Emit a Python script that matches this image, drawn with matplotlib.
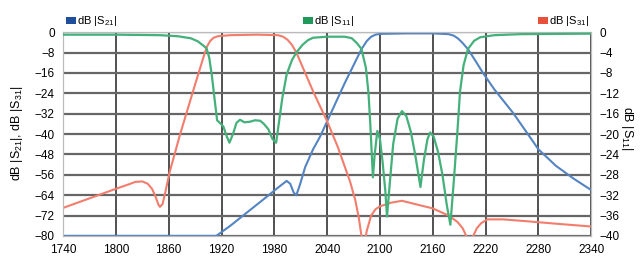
import numpy as np
import matplotlib
matplotlib.use("Agg")
import matplotlib.pyplot as plt
from matplotlib.patches import Rectangle

plt.rcParams['font.family'] = ['Liberation Sans Narrow', 'Liberation Sans', 'DejaVu Sans']
plt.rcParams['mathtext.fontset'] = 'custom'
plt.rcParams['mathtext.rm'] = 'Liberation Sans Narrow'

# dB |S21| (left axis)
f_s21 = [1740, 1800, 1860, 1914, 1930, 1950, 1970, 1980, 1988, 1994, 1998, 2002, 2005,
         2009, 2015, 2024, 2032, 2040, 2050, 2060, 2070, 2079, 2085, 2090, 2095, 2100,
         2130, 2160, 2178, 2184, 2189, 2194, 2200, 2208, 2217, 2230, 2251, 2265, 2280,
         2300, 2320, 2340]
s21 = [-80, -80, -80, -80, -76, -70.5, -65, -62.2, -60, -58.4, -59.5, -63, -64,
       -60, -53, -46, -41, -35, -27.5, -20, -13, -6.7, -3.5, -1.8, -1, -0.7,
       -0.5, -0.5, -0.8, -1.4, -2.6, -4.3, -6.7, -11, -16, -22.5, -31.6, -38.5, -46,
       -52.5, -57.5, -62]

# dB |S31| (left axis)
f_s31 = [1740, 1760, 1780, 1800, 1815, 1822, 1830, 1836, 1841, 1845, 1848, 1850, 1853,
         1856, 1861, 1867, 1873, 1880, 1890, 1898, 1903, 1907, 1911, 1916, 1930, 1960,
         1984, 1990, 1995, 2000, 2005, 2015, 2025, 2040, 2052, 2066, 2072, 2076, 2079,
         2082, 2085, 2090, 2095, 2100, 2112, 2125, 2140, 2160, 2178, 2188, 2194, 2198,
         2202, 2206, 2210, 2215, 2222, 2240, 2269, 2300, 2340]
s31 = [-69, -66.5, -64, -61.5, -59.7, -58.8, -58.6, -59.5, -61.5, -64.5, -67.5, -68.6, -67.5,
       -63, -55, -47.5, -40, -32, -20.5, -11.5, -6, -3.5, -2.2, -1.6, -1.2, -1,
       -1.2, -1.8, -3, -5, -8, -16, -24, -35, -45, -58.6, -66, -73, -80,
       -84, -78, -72, -69.5, -68.4, -67, -66.2, -67.5, -69.2, -72, -74.5, -77, -80,
       -83, -80, -77, -75, -73.5, -73.5, -74.3, -75.2, -76.3]

# dB |S11| (right axis)
f_s11 = [1740, 1800, 1850, 1870, 1885, 1893, 1899, 1903, 1906, 1909, 1912, 1915, 1918,
         1922, 1926, 1929, 1933, 1937, 1941, 1946, 1952, 1958, 1964, 1968, 1973, 1978,
         1982, 1985, 1989, 1994, 2000, 2005, 2012, 2018, 2024, 2040, 2060, 2068, 2074,
         2079, 2084, 2087, 2089, 2091, 2092, 2094, 2097, 2100, 2103, 2106, 2108, 2111,
         2115, 2120, 2125, 2130, 2135, 2140, 2146, 2150, 2154, 2157, 2161, 2166, 2171,
         2176, 2180, 2184, 2188, 2191, 2195, 2200, 2207, 2214, 2230, 2260, 2340]
s11 = [-0.5, -0.5, -0.6, -0.8, -1.2, -1.8, -2.6, -3.2, -5, -8.5, -13, -17.3, -17.8,
       -18.5, -20.5, -21.7, -20, -17.8, -17.2, -17.7, -17.6, -17.3, -17.4, -18, -19, -21,
       -21.7, -18, -13, -8.3, -5.5, -4, -2.5, -1.6, -1.1, -0.9, -0.9, -1.2, -2.2,
       -3.3, -7, -12, -18, -25, -28.5, -24, -19.4, -21, -25.5, -31, -36.2, -30,
       -22, -17, -15.5, -16.5, -19.5, -24, -30.4, -25, -21, -19.7, -20.5, -23.5, -28,
       -34, -37.8, -29, -19.5, -11.6, -6.5, -3.3, -1.7, -1, -0.6, -0.4, -0.3]

x_ticks = np.arange(1740, 2341, 60)
left_ticks = np.arange(-80, 1, 8)
right_ticks = np.arange(-40, 1, 4)

c_blue = '#5484c2'
c_green = '#44b07a'
c_red = '#f27d6c'

fig = plt.figure(figsize=(6.44, 2.57), dpi=100)
ax = fig.add_axes([0.098, 0.082, 0.820, 0.793])
ax2 = ax.twinx()

for x in x_ticks:
    ax.axvline(x, color='#333333', lw=1.2, zorder=1)
for y in left_ticks:
    ax.axhline(y, color='#666666', lw=1.6, zorder=1)

ax.plot(f_s21, s21, color=c_blue, lw=1.5, zorder=3)
ax.plot(f_s31, s31, color=c_red, lw=1.5, zorder=3)
ax2.plot(f_s11, s11, color=c_green, lw=1.6, zorder=3)

ax.set_xlim(1740, 2340)
ax.set_ylim(-80, 0)
ax2.set_ylim(-40, 0)
ax.set_xticks(x_ticks)
ax.set_yticks(left_ticks)
ax2.set_yticks(right_ticks)
ax.tick_params(length=0, labelsize=8.5, pad=6)
ax2.tick_params(length=0, labelsize=8.5, pad=6)

for a in (ax, ax2):
    for s in a.spines.values():
        s.set_color('#bbbbbb')
        s.set_linewidth(0.8)

fig.text(0.026, 0.48, r'dB |S$_{\mathregular{21}}$|, dB |S$_{\mathregular{31}}$|', fontsize=9,
         rotation=90, ha='center', va='center')
fig.text(0.974, 0.50, r'dB |S$_{\mathregular{11}}$|', fontsize=9,
         rotation=270, ha='center', va='center')

# legend across the top
legend_items = [(0.1025, '#1f4f9c', r'dB |S$_{\mathregular{21}}$|'),
                (0.470, '#1f9a5a', r'dB |S$_{\mathregular{11}}$|'),
                (0.835, '#e8503c', r'dB |S$_{\mathregular{31}}$|')]
for x0, sq, label in legend_items:
    fig.add_artist(Rectangle((x0, 0.905), 0.0155, 0.028, transform=fig.transFigure,
                             color=sq, lw=0))
    fig.text(x0 + 0.017, 0.918, label, fontsize=8, va='center', ha='left')

fig.savefig('out.png', dpi=100)
